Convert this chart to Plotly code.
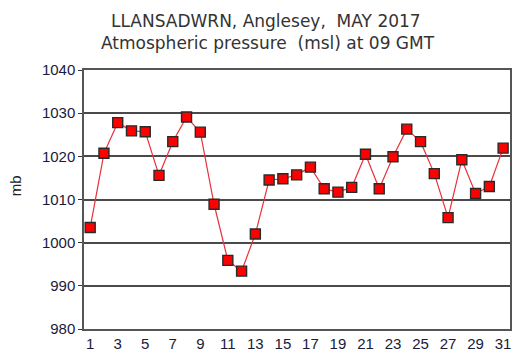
import plotly.graph_objects as go

days = list(range(1, 32))
pressure = [1003.5, 1020.7, 1027.8, 1025.9, 1025.7, 1015.6, 1023.4, 1029.1, 1025.6, 1008.9,
            995.9, 993.4, 1002.0, 1014.5, 1014.8, 1015.7, 1017.5, 1012.5, 1011.7, 1012.8,
            1020.5, 1012.5, 1019.9, 1026.3, 1023.4, 1016.0, 1005.8, 1019.2, 1011.4, 1013.0,
            1021.9]
x_ticks = list(range(1, 32, 2))
y_ticks = [980, 990, 1000, 1010, 1020, 1030, 1040]
title_lines = ["LLANSADWRN, Anglesey,&nbsp; MAY 2017",
               "Atmospheric pressure&nbsp; (msl) at 09 GMT"]
y_title = "mb"

fig = go.Figure()
fig.add_trace(go.Scatter(
    x=days, y=pressure, mode="lines+markers",
    line=dict(color="#e8303a", width=1.2),
    marker=dict(symbol="square", size=10, color="#ff0000",
                line=dict(color="#2a2a2a", width=1.4)),
    showlegend=False,
))

title_font = dict(family="DejaVu Sans", size=17, color="#333333")
fig.add_annotation(text=title_lines[0], xref="paper", yref="paper",
                   x=0.428, y=1.19, xanchor="center", yanchor="middle",
                   showarrow=False, font=title_font)
fig.add_annotation(text=title_lines[1], xref="paper", yref="paper",
                   x=0.431, y=1.105, xanchor="center", yanchor="middle",
                   showarrow=False, font=title_font)
fig.add_annotation(text=y_title, xref="paper", yref="paper",
                   x=-0.162, y=0.555, xanchor="center", yanchor="middle",
                   textangle=-90, showarrow=False,
                   font=dict(family="Liberation Sans, Arial", size=15, color="#222222"))

tick_font = dict(family="Liberation Sans, Arial", size=15, color="#1a1a3a")
fig.update_layout(
    width=524, height=363,
    margin=dict(l=84, r=14, t=70, b=34),
    paper_bgcolor="white", plot_bgcolor="white",
    xaxis=dict(
        range=[0.55, 31.5], tickvals=x_ticks, ticktext=[str(v) for v in x_ticks],
        showgrid=False, zeroline=False, showline=True, linecolor="#555555", linewidth=1.5,
        mirror=True, ticks="", ticklabelstandoff=0, tickfont=tick_font,
    ),
    yaxis=dict(
        range=[980, 1040], tickvals=y_ticks, ticktext=[str(v) for v in y_ticks],
        showgrid=True, gridcolor="#4a4a4a", gridwidth=1.5, zeroline=False,
        showline=True, linecolor="#555555", linewidth=1.5, mirror=True,
        ticks="outside", ticklen=4, tickcolor="#333333", tickfont=tick_font,
    ),
)

fig.write_html("out.html", config={"displayModeBar": False},
               post_script="document.body.style.margin='0px';")
